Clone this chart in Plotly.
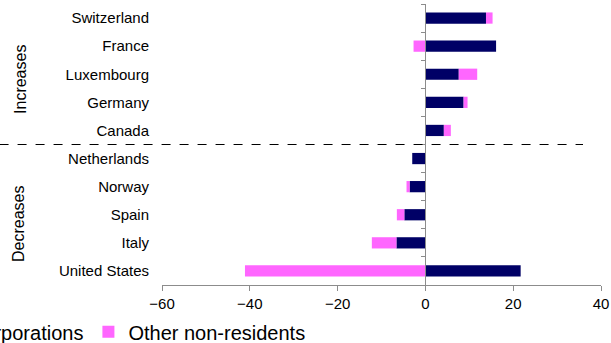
import plotly.graph_objects as go

countries = ["Switzerland", "France", "Luxembourg", "Germany", "Canada",
             "Netherlands", "Norway", "Spain", "Italy", "United States"]
corporations = [13.8, 16.1, 7.6, 8.7, 4.2, -3.0, -3.6, -4.8, -6.6, 21.7]
other_nonres = [1.5, -2.7, 4.2, 0.9, 1.6, 0.0, -0.7, -1.7, -5.6, -41.1]
x_ticks = [-60, -40, -20, 0, 20, 40]
group_labels = ["Increases", "Decreases"]

FONT = "Liberation Sans, Arial, sans-serif"
NAVY = "#000066"
PINK = "#FF66FF"
GREY = "#8C8C8C"

fig = go.Figure()
fig.add_trace(go.Bar(y=countries, x=corporations, orientation="h",
                     name="Corporations", marker=dict(color=NAVY, line=dict(width=0))))
fig.add_trace(go.Bar(y=countries, x=other_nonres, orientation="h",
                     name="Other non-residents", marker=dict(color=PINK, line=dict(width=0))))
# invisible trace to carry the axis drawn at x = 0
fig.add_trace(go.Scatter(y=countries, x=[0] * len(countries), yaxis="y2",
                         mode="markers", marker=dict(opacity=0), showlegend=False,
                         hoverinfo="skip"))

fig.update_layout(
    width=611, height=343,
    margin=dict(l=162, r=10, t=4, b=58, autoexpand=False),
    paper_bgcolor="white", plot_bgcolor="white",
    barmode="relative", bargap=0.6,
    font=dict(family=FONT, size=15, color="black"),
    xaxis=dict(range=[-60, 40], tickvals=x_ticks, showgrid=False, zeroline=False,
               showline=True, linecolor=GREY, linewidth=1, ticks="outside",
               ticklen=5, tickcolor=GREY, tickfont=dict(size=15)),
    yaxis=dict(type="category", categoryarray=countries, range=[9.5, -0.5],
               showgrid=False, showline=False, ticks="", ticklabelstandoff=12,
               tickfont=dict(size=15)),
    yaxis2=dict(type="category", categoryarray=countries, range=[9.5, -0.5],
                overlaying="y", anchor="free", position=0.6, side="left",
                showgrid=False, showline=True, linecolor=GREY, linewidth=1,
                ticks="outside", tickson="boundaries", ticklen=4, tickcolor=GREY,
                showticklabels=False),
    legend=dict(orientation="h", x=-0.531, xanchor="left", y=-0.097, yanchor="top",
                font=dict(size=20), traceorder="normal", bgcolor="rgba(0,0,0,0)"),
    showlegend=True,
)

fig.add_shape(type="line", xref="paper", yref="y", x0=-0.37, x1=0.959, y0=4.5, y1=4.5,
              line=dict(color="black", width=1, dash="dash"))

fig.add_annotation(text=group_labels[0], xref="paper", yref="paper", x=-0.321, y=0.73,
                   xanchor="center", yanchor="middle",
                   textangle=-90, showarrow=False, font=dict(size=16))
fig.add_annotation(text=group_labels[1], xref="paper", yref="paper", x=-0.328, y=0.217,
                   xanchor="center", yanchor="middle",
                   textangle=-90, showarrow=False, font=dict(size=16))

fig.write_html("out.html")
